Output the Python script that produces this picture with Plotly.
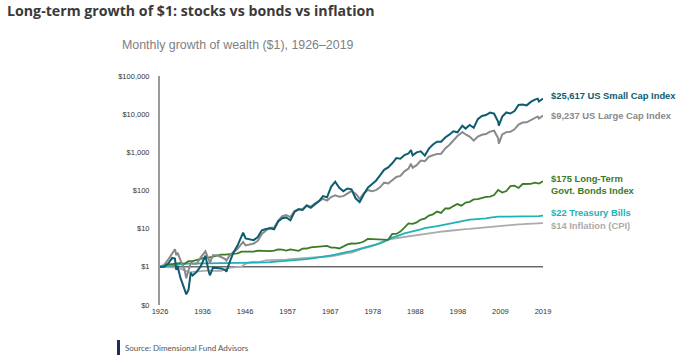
import numpy as np
import plotly.graph_objects as go

# ---------------- data ----------------
X_TICK_LABELS = ["1926", "1936", "1946", "1957", "1967", "1978", "1988", "1998", "2009", "2019"]
Y_TICK_VALUES = [0.1, 1, 10, 100, 1000, 10000, 100000]
Y_TICK_LABELS = ["$0", "$1", "$10", "$100", "$1,000", "$10,000", "$100,000"]

# stock index dates (decimal years) with growth of $1
stock_dates = [
    1926.0, 1927.0, 1928.0, 1929.0, 1929.67, 1930.0, 1930.3, 1931.0, 1932.0, 1932.45,
    1933.0, 1933.55, 1934.0, 1935.0, 1936.0, 1937.15, 1938.0, 1938.25, 1939.0, 1940.0,
    1941.0, 1942.0, 1942.3, 1943.0, 1944.0, 1945.0, 1946.0, 1946.4, 1947.0, 1948.0,
    1949.0, 1950.0, 1951.0, 1952.0, 1953.0, 1954.0, 1955.0, 1956.0, 1957.0, 1958.0,
    1959.0, 1960.0, 1961.0, 1962.0, 1963.0, 1964.0, 1965.0, 1966.0, 1967.0, 1968.0,
    1969.0, 1970.0, 1971.0, 1972.0, 1973.0, 1974.0, 1975.0, 1976.0, 1977.0, 1978.0,
    1979.0, 1980.0, 1981.0, 1982.0, 1983.0, 1984.0, 1985.0, 1986.0, 1987.0, 1987.6,
    1988.0, 1989.0, 1990.0, 1991.0, 1992.0, 1993.0, 1994.0, 1995.0, 1996.0, 1997.0,
    1998.0, 1999.0, 2000.0, 2000.2, 2001.0, 2002.0, 2003.0, 2004.0, 2005.0, 2006.0,
    2007.0, 2008.0, 2009.0, 2009.15, 2010.0, 2011.0, 2012.0, 2013.0, 2014.0, 2015.0,
    2016.0, 2017.0, 2018.0, 2018.7, 2019.0, 2020.0,
]
small_cap = [
    1.00, 1.00, 1.22, 1.71, 1.65, 0.83, 1.05, 0.52, 0.26, 0.19,
    0.25, 0.70, 0.59, 0.74, 1.04, 1.95, 0.72, 0.60, 0.95, 0.95,
    0.91, 0.82, 0.75, 1.25, 2.35, 3.56, 6.32, 7.9, 5.55, 5.26,
    5.00, 6.06, 9.06, 9.76, 10.28, 9.64, 15.46, 18.75, 19.61, 16.57,
    27.4, 32.1, 30.9, 40.1, 35.1, 43.1, 52.1, 71.2, 66.4, 124.9,
    170.0, 117.7, 96.1, 112.7, 107.0, 62.5, 49.8, 79.0, 118.7, 146.3,
    180.6, 249.7, 347.8, 402.4, 515.1, 708.6, 680.0, 850.0, 930.0, 1150.0,
    830.0, 1000.0, 1060.0, 820.0, 1250.0, 1600.0, 1900.0, 1900.0, 2450.0, 2900.0,
    3550.0, 3350.0, 4500.0, 5000.0, 4200.0, 5200.0, 4400.0, 7400.0, 9000.0, 9500.0,
    11000.0, 10300.0, 6300.0, 5000.0, 8600.0, 11100.0, 10400.0, 12100.0, 17400.0, 18000.0,
    17000.0, 21000.0, 24000.0, 25500.0, 21500.0, 25617.0,
]
large_cap = [
    1.00, 1.12, 1.54, 2.20, 2.90, 2.02, 2.35, 1.52, 0.86, 0.50,
    0.79, 1.30, 1.21, 1.20, 1.77, 2.55, 1.54, 1.25, 2.02, 2.01,
    1.81, 1.60, 1.45, 1.93, 2.43, 2.91, 3.97, 4.50, 3.65, 3.85,
    4.07, 4.83, 7.25, 8.99, 10.64, 10.54, 16.09, 21.17, 22.56, 20.13,
    28.86, 32.31, 32.46, 41.19, 37.60, 46.17, 53.78, 60.47, 54.39, 67.43,
    74.88, 68.52, 71.26, 81.43, 96.87, 82.66, 60.78, 83.40, 103.2, 95.84,
    102.1, 121.0, 160.2, 152.3, 184.9, 226.6, 240.7, 317.1, 375.7, 500.0,
    395.4, 461.1, 607.3, 588.4, 767.6, 826.2, 909.2, 921.4, 1267.6, 1558.6,
    2078.6, 2672.8, 3235.3, 3400.0, 2941.0, 2591.0, 2019.0, 2598.0, 2881.0, 3022.0,
    3499.0, 3692.0, 2326.0, 1700.0, 2941.0, 3385.0, 3456.0, 4009.0, 5307.0, 6033.0,
    6117.0, 6849.0, 8000.0, 8700.0, 7700.0, 9237.0,
]

# annual (year-end) series, starting from $1 at the start of 1926
years = list(range(1926, 2020))
bonds = [
    1.078, 1.174, 1.175, 1.215, 1.272, 1.204, 1.407, 1.406, 1.547, 1.624,
    1.746, 1.750, 1.847, 1.956, 2.082, 2.101, 2.161, 2.203, 2.261, 2.502,
    2.482, 2.420, 2.507, 2.666, 2.646, 2.543, 2.573, 2.663, 2.850, 2.817,
    2.655, 2.853, 2.680, 2.624, 2.988, 3.018, 3.227, 3.266, 3.380, 3.404,
    3.529, 3.201, 3.196, 3.028, 3.414, 3.863, 4.081, 4.035, 4.215, 4.600,
    5.370, 5.336, 5.267, 5.200, 5.001, 5.106, 7.278, 7.281, 8.398, 11.03,
    13.71, 13.35, 14.63, 17.30, 18.38, 21.94, 23.72, 28.05, 25.86, 34.05,
    33.74, 39.09, 44.18, 40.04, 48.22, 50.56, 58.22, 59.36, 64.23, 68.48,
    69.33, 75.70, 103.2, 88.41, 96.79, 130.0, 134.4, 116.8, 148.0, 146.7,
    148.6, 161.4, 152.0, 175.0,
]
tbills = [
    1.033, 1.065, 1.103, 1.155, 1.183, 1.196, 1.207, 1.210, 1.212, 1.214,
    1.217, 1.221, 1.221, 1.221, 1.221, 1.222, 1.225, 1.229, 1.233, 1.237,
    1.241, 1.247, 1.257, 1.271, 1.286, 1.305, 1.325, 1.349, 1.360, 1.381,
    1.415, 1.459, 1.482, 1.526, 1.566, 1.600, 1.644, 1.695, 1.754, 1.823,
    1.910, 1.991, 2.094, 2.232, 2.378, 2.482, 2.578, 2.756, 2.976, 3.149,
    3.309, 3.479, 3.728, 4.115, 4.578, 5.251, 5.803, 6.307, 6.938, 7.481,
    7.942, 8.364, 8.892, 9.632, 10.39, 10.97, 11.35, 11.69, 12.28, 12.97,
    13.64, 14.34, 15.03, 15.73, 16.67, 17.30, 17.58, 17.76, 17.98, 18.53,
    19.40, 20.30, 20.60, 20.63, 20.66, 20.67, 20.69, 20.70, 20.71, 20.72,
    20.78, 20.96, 21.34, 22.0,
]
inflation = [
    0.985, 0.965, 0.955, 0.957, 0.899, 0.814, 0.730, 0.734, 0.749, 0.771,
    0.780, 0.804, 0.782, 0.778, 0.786, 0.862, 0.942, 0.972, 0.993, 1.015,
    1.199, 1.307, 1.343, 1.318, 1.395, 1.477, 1.490, 1.499, 1.492, 1.497,
    1.540, 1.586, 1.615, 1.639, 1.663, 1.674, 1.695, 1.723, 1.743, 1.777,
    1.836, 1.892, 1.981, 2.102, 2.218, 2.292, 2.371, 2.579, 2.894, 3.097,
    3.246, 3.466, 3.778, 4.281, 4.812, 5.242, 5.445, 5.652, 5.875, 6.097,
    6.166, 6.438, 6.722, 7.034, 7.464, 7.693, 7.916, 8.133, 8.351, 8.563,
    8.847, 9.001, 9.145, 9.390, 9.707, 9.857, 10.091, 10.281, 10.623, 10.992,
    11.269, 11.727, 11.736, 12.055, 12.233, 12.598, 12.815, 12.996, 13.082, 13.177,
    13.451, 13.741, 14.04, 14.0,
]

end_labels = [
    "$25,617 US Small Cap Index",
    "$9,237 US Large Cap Index",
    "$175 Long-Term<br>Govt. Bonds Index",
    "$22 Treasury Bills",
    "$14 Inflation (CPI)",
]

# ---------------- styling ----------------
C_SMALL = "#0d5c70"
C_LARGE = "#8a8a8a"
C_BONDS = "#3b7a26"
C_TBILL = "#1cb2b6"
C_CPI = "#ababab"

annual_x = [1926.0] + [y + 1.0 for y in years]
X0, X1 = annual_x[0], annual_x[-1]

fig = go.Figure()

# $1 baseline
fig.add_trace(go.Scatter(x=[X0, X1], y=[1, 1], mode="lines",
                         line=dict(color="#222222", width=1), hoverinfo="skip"))

fig.add_trace(go.Scatter(x=annual_x, y=[1.0] + inflation, mode="lines",
                         line=dict(color=C_CPI, width=1.8), name="Inflation"))
fig.add_trace(go.Scatter(x=annual_x, y=[1.0] + tbills, mode="lines",
                         line=dict(color=C_TBILL, width=1.8), name="T-Bills"))
fig.add_trace(go.Scatter(x=annual_x, y=[1.0] + bonds, mode="lines",
                         line=dict(color=C_BONDS, width=1.8), name="Bonds"))
fig.add_trace(go.Scatter(x=stock_dates, y=large_cap, mode="lines",
                         line=dict(color=C_LARGE, width=2), name="Large Cap"))
fig.add_trace(go.Scatter(x=stock_dates, y=small_cap, mode="lines",
                         line=dict(color=C_SMALL, width=2), name="Small Cap"))

tickvals = list(np.linspace(X0, X1, len(X_TICK_LABELS)))

W, H = 679, 360
pl, pr, pt, pb = 160, 136, 76, 55
pw, ph = W - pl - pr, H - pt - pb

fig.update_layout(
    width=W, height=H,
    margin=dict(l=pl, r=pr, t=pt, b=pb),
    paper_bgcolor="white", plot_bgcolor="white",
    showlegend=False,
    font=dict(family="Liberation Sans, Arial, sans-serif", color="#333333"),
    xaxis=dict(range=[X0, X1], tickvals=tickvals, ticktext=X_TICK_LABELS,
               showgrid=False, zeroline=False, showline=False, ticks="",
               tickfont=dict(size=7.5, color="#333333")),
    yaxis=dict(type="log", range=[-1, 5], tickvals=Y_TICK_VALUES, ticktext=Y_TICK_LABELS,
               showgrid=False, zeroline=False, showline=True, linecolor="#9a9a9a",
               linewidth=2, ticks="", tickfont=dict(size=7.5, color="#333333"),
               ticklabelstandoff=7),
)

label_colors = [C_SMALL, C_LARGE, C_BONDS, C_TBILL, C_CPI]
label_vals = [small_cap[-1], large_cap[-1], bonds[-1], tbills[-1], inflation[-1]]
label_yshift = [3, 0, -3, 3, -2]
for txt, col, yv, ys in zip(end_labels, label_colors, label_vals, label_yshift):
    fig.add_annotation(x=X1, y=np.log10(yv), xref="x", yref="y", text="<b>" + txt + "</b>",
                       showarrow=False, xanchor="left", yanchor="middle", xshift=6, yshift=ys,
                       align="left", font=dict(size=9.4, color=col,
                                               family="Liberation Sans, Arial, sans-serif"))


def px_to_paper(px, py):
    return (px - pl) / pw, 1 - (py - pt) / ph


# title, subtitle, source (positioned in page pixels)
tx, ty = px_to_paper(5, 11)
fig.add_annotation(x=tx, y=ty, xref="paper", yref="paper",
                   text="<b>Long-term growth of $1: stocks vs bonds vs inflation</b>",
                   showarrow=False, xanchor="left", yanchor="middle",
                   font=dict(size=14.2, color="#3a3a3a", family="Open Sans, sans-serif"))
sx, sy = px_to_paper(120, 45)
fig.add_annotation(x=sx, y=sy, xref="paper", yref="paper",
                   text="Monthly growth of wealth ($1), 1926–2019",
                   showarrow=False, xanchor="left", yanchor="middle",
                   font=dict(size=12.4, color="#808080", family="Liberation Sans, Arial, sans-serif"))
qx, qy = px_to_paper(123, 348)
fig.add_annotation(x=qx, y=qy, xref="paper", yref="paper",
                   text="Source: Dimensional Fund Advisors",
                   showarrow=False, xanchor="left", yanchor="middle",
                   font=dict(size=8, color="#555555", family="Lato, sans-serif"))

# source bar
bx0, by0 = px_to_paper(117, 355)
bx1, by1 = px_to_paper(120, 340)
fig.add_shape(type="rect", xref="paper", yref="paper", x0=bx0, x1=bx1, y0=by0, y1=by1,
              fillcolor="#1a2f5a", line=dict(width=0))

fig.write_html("out.html", config={"displayModeBar": False},
               post_script="document.body.style.margin='0px';")
